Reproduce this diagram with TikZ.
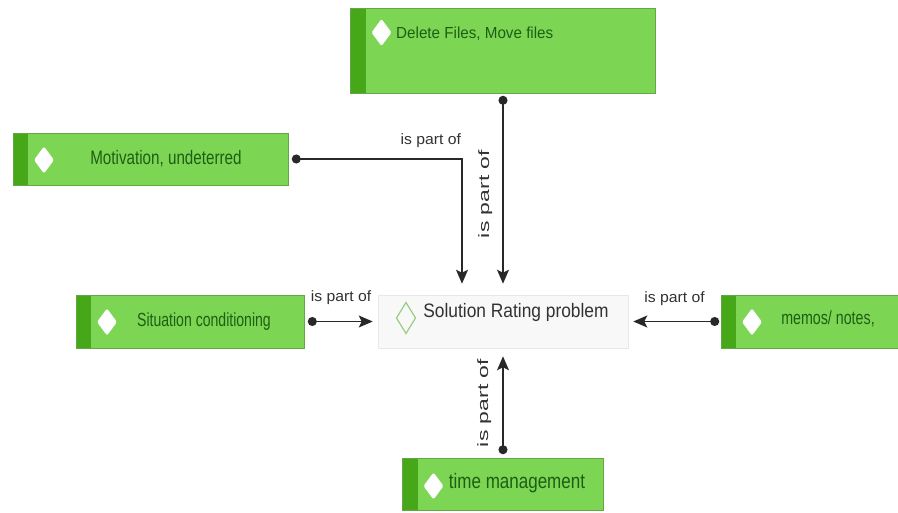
\documentclass[tikz,border=0pt]{standalone}
\usepackage{graphicx}
\usepackage{fontspec}
\setmainfont{Liberation Sans}
\usetikzlibrary{arrows.meta}
\definecolor{boxgreen}{RGB}{124,214,84}
\definecolor{stripegreen}{RGB}{70,168,24}
\definecolor{edgegreen}{RGB}{100,168,70}
\definecolor{textgreen}{RGB}{30,94,20}
\definecolor{ratingfill}{RGB}{248,248,248}
\definecolor{ratingedge}{RGB}{232,232,232}
\definecolor{diamondgreen}{RGB}{150,205,130}
\definecolor{linegray}{RGB}{40,40,40}
\definecolor{labelgray}{RGB}{50,50,50}
\def\squeezed#1#2#3{{\fontsize{#1}{#1}\selectfont\scalebox{#2}[1]{#3}}}

\begin{document}
\begin{tikzpicture}[x=1pt, y=-1pt,
		greenbox/.style={draw=edgegreen, line width=0.6pt, fill=boxgreen, inner sep=0pt,
			path picture={
				\fill[stripegreen] (path picture bounding box.north west) rectangle ([xshift=15pt]path picture bounding box.south west);
				\fill[white, rounded corners=1.5pt] ([shift={(#1)}]path picture bounding box.north west) +(-10,0) -- +(0,-13.5) -- +(10,0) -- +(0,13.5) -- cycle;
			}},
		ratingbox/.style={draw=ratingedge, line width=0.6pt, fill=ratingfill, inner sep=0pt,
			path picture={
				\draw[diamondgreen, line width=1.2pt] ([shift={(28,23)}]path picture bounding box.north west) +(-9.5,0) -- +(0,-15.5) -- +(9.5,0) -- +(0,15.5) -- cycle;
			}},
		boxtext/.style={text=textgreen, inner sep=0pt, anchor=base},
		ratingtext/.style={text=labelgray, inner sep=0pt, anchor=base},
		partof/.style={draw=linegray, line width=1.6pt, {Circle[length=9pt,width=9pt]}-{Stealth[length=14pt,width=12pt,inset=3pt]}},
		hlabel/.style={text=labelgray, anchor=south, inner xsep=0pt, font=\fontsize{15}{15}\selectfont},
		vlabel/.style={text=labelgray, anchor=south, rotate=90, inner xsep=0pt, font=\fontsize{15}{15}\selectfont}
	]
		%%%%% START %%%%%
		\useasboundingbox (0,0) rectangle (898,512);
		
		\node[ratingbox, minimum width=250pt, minimum height=53pt] (rating) at (503,321.5) {};
		\node[ratingtext] (ratingtext) at (516,317) {\squeezed{19.5}{0.89}{Solution Rating problem}};
		
		\node[greenbox={31,24.5}, minimum width=305pt, minimum height=85pt] (delete) at (503,50.5) {};
		\node[boxtext, anchor=base west] (deletetext) at (396,38) {\squeezed{16}{0.95}{Delete Files, Move files}};
		
		\node[greenbox={31,27}, minimum width=275pt, minimum height=52pt] (motivation) at (150.5,159) {};
		\node[boxtext] (motivationtext) at (166,164) {\squeezed{19.5}{0.78}{Motivation, undeterred}};
		
		\node[greenbox={31,27}, minimum width=228pt, minimum height=53pt] (situation) at (190,321.5) {};
		\node[boxtext] (situationtext) at (204,326) {\squeezed{19}{0.74}{Situation conditioning}};
		
		\node[greenbox={31,27}, minimum width=181pt, minimum height=53pt] (memos) at (811.5,321.5) {};
		\node[boxtext] (memostext) at (828,324) {\squeezed{19}{0.75}{memos/ notes,}};
		
		\node[greenbox={31,28}, minimum width=201pt, minimum height=52pt] (time) at (503,484) {};
		\node[boxtext] (timetext) at (517,488) {\squeezed{21}{0.81}{time management}};
		
		% is part of
		\draw[partof, shorten <=2.5pt, shorten >=11pt] (delete.south) -- (rating.north)
			node[vlabel, midway, inner ysep=10pt] (deletelabel) {\scalebox{1.53}[1]{is part of}};
		\draw[partof, shorten <=3.5pt, shorten >=11pt] (motivation.east) -| ([xshift=-41pt]rating.north)
			node[hlabel, pos=0.41, inner ysep=11pt] (motivationlabel) {\scalebox{1.05}[1]{is part of}};
		\draw[partof, shorten <=3.5pt, shorten >=5pt] (situation.east) -- (rating.west)
			node[hlabel, midway, inner ysep=16.4pt] (situationlabel) {\scalebox{1.05}[1]{is part of}};
		\draw[partof, shorten <=1.5pt, shorten >=5pt] (memos.west) -- (rating.east)
			node[hlabel, midway, inner ysep=15.4pt] (memoslabel) {\scalebox{1.05}[1]{is part of}};
		\draw[partof, shorten <=3.5pt, shorten >=8pt] (time.north) -- (rating.south)
			node[vlabel, midway, inner ysep=11pt] (timelabel) {\scalebox{1.53}[1]{is part of}};
		
		%%%%% END %%%%%
\end{tikzpicture}
\end{document}
